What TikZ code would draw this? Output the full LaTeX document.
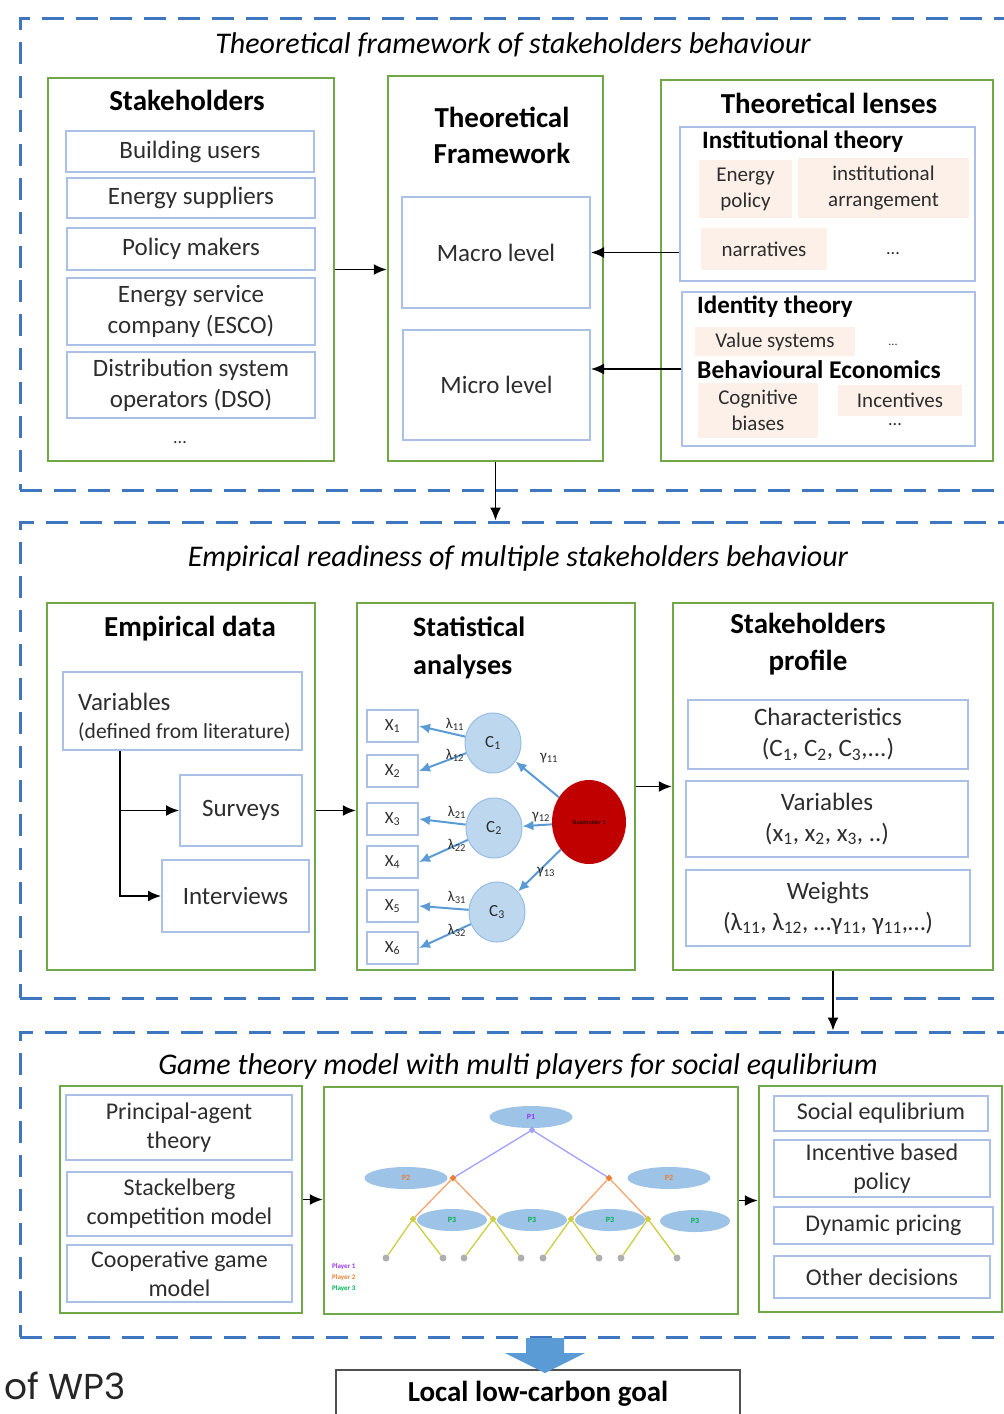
\documentclass[tikz,border=0pt]{standalone}
\usepackage{fontspec}
\setmainfont{Carlito}
\newfontfamily\wpfont{Poppins}
\usetikzlibrary{arrows.meta,shapes.geometric,calc}

\definecolor{grn}{RGB}{112,168,72}
\definecolor{lblue}{RGB}{170,192,230}
\definecolor{dblue}{RGB}{62,118,192}
\definecolor{peach}{RGB}{252,240,232}
\definecolor{txt}{RGB}{45,45,45}
\definecolor{cfill}{RGB}{189,215,238}
\definecolor{cline}{RGB}{150,190,228}
\definecolor{carrow}{RGB}{91,155,213}
\definecolor{sred}{RGB}{192,0,0}
\definecolor{ellfill}{RGB}{157,195,230}
\definecolor{pone}{RGB}{153,51,255}
\definecolor{ptwo}{RGB}{237,125,49}
\definecolor{pthree}{RGB}{0,176,80}
\definecolor{eone}{RGB}{160,160,255}
\definecolor{etwo}{RGB}{244,165,110}
\definecolor{ethree}{RGB}{205,205,70}
\definecolor{leafc}{RGB}{175,175,175}
\definecolor{goalc}{RGB}{80,80,80}

\newcommand\pxf[2]{\fontsize{#1}{#2}\selectfont}

\begin{document}
\begin{tikzpicture}[x=1pt,y=-1pt,
  sz/.style 2 args={minimum width=#1, minimum height=#2, inner sep=0pt},
  frame/.style={draw=dblue, line width=3pt, dash pattern=on 22pt off 12pt},
  frametitle/.style={font=\pxf{30}{36}\itshape, text=black},
  greenbox/.style={draw=grn, line width=2.5pt},
  bluebox/.style={draw=lblue, line width=2pt, align=center, text=txt, font=\pxf{25}{31}},
  heading/.style={font=\pxf{29}{37}\bfseries, text=black, align=center, inner sep=0pt},
  subhead/.style={font=\pxf{25}{30}\bfseries, text=black, anchor=west, inner sep=0pt},
  peachbox/.style={fill=peach, align=center, text=txt, font=\pxf{21}{26}},
  dots/.style={font=\pxf{18}{20}, text=txt, inner sep=0pt},
  arr/.style={-{Latex[length=13pt,width=11pt]}, line width=1.7pt, draw=black},
  xbox/.style={draw=lblue, line width=2pt, sz={51}{32}, font=\pxf{17}{20}, text=txt},
  cnode/.style={ellipse, fill=cfill, draw=cline, line width=1pt, sz={56}{60}, font=\pxf{17}{20}, text=txt},
  carr/.style={-{Latex[length=11pt,width=10pt]}, line width=2pt, draw=cline, color=carrow},
  lam/.style={font=\pxf{15}{17}, text=txt, inner sep=0pt},
  gell/.style={ellipse, fill=ellfill, inner sep=0pt, font=\pxf{8}{9}\bfseries},
  tnode/.style={diamond, inner sep=0pt, minimum size=7pt},
  leaf/.style={circle, fill=leafc, inner sep=0pt, minimum size=7pt},
  legend/.style={font=\pxf{7}{8}\bfseries, anchor=west, inner sep=0pt}
]
\useasboundingbox (0,0) rectangle (1004,1414);

% ---------- dashed section frames ----------
\node[frame, sz={1010}{472}] (fr1) at (525,254) {};
\node[frame, sz={1010}{476}] (fr2) at (525,760) {};
\node[frame, sz={1010}{305}] (fr3) at (525,1184.5) {};

\node[frametitle] at (513,45) {Theoretical framework of stakeholders behaviour};
\node[frametitle] at (518,558) {Empirical readiness of multiple stakeholders behaviour};
\node[frametitle] at (518,1066) {Game theory model with multi players for social equlibrium};

% ---------- section 1: theoretical framework ----------
\node[greenbox, sz={286}{383}] (stk) at (191,269.5) {};
\node[heading] at (187,100) {Stakeholders};
\node[bluebox, sz={248}{41}] (bu) at (190,151.5) {Building users};
\node[bluebox, sz={248}{40}] (es) at (191,198) {Energy suppliers};
\node[bluebox, sz={248}{42}] (pm) at (191,249) {Policy makers};
\node[bluebox, sz={248}{67}] (esco) at (191,311.5) {Energy service\\company (ESCO)};
\node[bluebox, sz={248}{66}] (dso) at (191,385) {Distribution system\\operators (DSO)};
\node[dots] at (180,443) {...};

\node[greenbox, sz={215}{385}] (tf) at (495.5,268.5) {};
\node[heading, font=\pxf{29}{36}\bfseries] at (502,135) {Theoretical\\Framework};
\node[bluebox, sz={188}{111}] (macro) at (496,252.5) {Macro level};
\node[bluebox, sz={187}{110}] (micro) at (496.5,385) {Micro level};

\node[greenbox, sz={332}{381}] (tl) at (827,270.5) {};
\node[heading] at (829,103) {Theoretical lenses};
\node[draw=lblue, line width=2pt, sz={295}{154}] (inst) at (827.5,204) {};
\node[subhead] at (702,142) {Institutional theory};
\node[peachbox, sz={93}{58}] (ep) at (745.5,189) {Energy\\policy};
\node[peachbox, sz={171}{60}] (ia) at (883.5,188) {institutional\\arrangement};
\node[peachbox, sz={126}{42}] (nar) at (764,249) {narratives};
\node[dots] at (893,254) {...};
\node[draw=lblue, line width=2pt, sz={293}{154}] (idt) at (828.5,369) {};
\node[subhead] at (697,307) {Identity theory};
\node[peachbox, sz={160}{29}] (vs) at (775,341.5) {Value systems};
\node[dots, font=\pxf{12}{14}] at (893,345) {...};
\node[subhead, font=\pxf{25.5}{30}\bfseries] at (697,370) {Behavioural Economics};
\node[peachbox, sz={120}{55}] (cb) at (758,410.5) {Cognitive\\biases};
\node[peachbox, sz={124}{31}] (inc) at (900,400.5) {Incentives};
\node[dots] at (895,425) {...};

\draw[arr] (stk.east) -- (stk.east -| tf.west);
\draw[arr] (inst.west |- macro.east) -- (macro.east);
\draw[arr] (idt.west) -- (idt.west -| micro.east);
\draw[arr] (tf.south) -- (tf.south |- fr2.north);

% ---------- section 2: empirical readiness ----------
\node[greenbox, sz={268}{367}] (emp) at (181,786.5) {};
\node[heading] at (190,629) {Empirical data};
\node[draw=lblue, line width=2pt, sz={239}{78}] (var) at (182.5,711) {};
\node[anchor=west, inner sep=0pt, font=\pxf{25}{30}, text=txt] at (78,702) {Variables};
\node[anchor=west, inner sep=0pt, font=\pxf{21.5}{26}, text=txt] at (78,732) {(defined from literature)};
\node[bluebox, sz={122}{71}] (sur) at (241,810.5) {Surveys};
\node[bluebox, sz={147}{72}] (int) at (235.5,896) {Interviews};
\coordinate (vfoot) at ([xshift=-62.5pt]var.south);
\draw[arr] (vfoot) |- (sur.west);
\draw[arr] (vfoot) |- (int.west);

\node[greenbox, sz={278}{367}] (stat) at (496,786.5) {};
\node[heading, anchor=west, align=left, font=\pxf{28}{38}\bfseries] at (413,648) {Statistical\\analyses};
\node[xbox] (x1) at (392.5,726) {X\textsubscript{1}};
\node[xbox] (x2) at (392.5,771) {X\textsubscript{2}};
\node[xbox] (x3) at (392.5,819) {X\textsubscript{3}};
\node[xbox] (x4) at (392.5,862) {X\textsubscript{4}};
\node[xbox] (x5) at (392.5,906) {X\textsubscript{5}};
\node[xbox] (x6) at (392.5,948) {X\textsubscript{6}};
\node[cnode] (c1) at (493,743) {C\textsubscript{1}};
\node[cnode] (c2) at (494,828) {C\textsubscript{2}};
\node[cnode] (c3) at (497,912) {C\textsubscript{3}};
\node[ellipse, fill=sred, inner sep=0pt, sz={74}{84}, font=\pxf{6}{7}, text=black] (sh) at (589,822) {Stakeholder 1};
\draw[carr] (c1) -- (x1.east);
\draw[carr] (c1) -- (x2.east);
\draw[carr] (c2) -- (x3.east);
\draw[carr] (c2) -- (x4.east);
\draw[carr] (c3) -- (x5.east);
\draw[carr] (c3) -- (x6.east);
\draw[carr] (sh) -- (c1);
\draw[carr] (sh) -- (c2);
\draw[carr] (sh) -- (c3);
\node[lam] at (455,724) {λ\textsubscript{11}};
\node[lam] at (455,755) {λ\textsubscript{12}};
\node[lam] at (457,812) {λ\textsubscript{21}};
\node[lam] at (457,845) {λ\textsubscript{22}};
\node[lam] at (457,897) {λ\textsubscript{31}};
\node[lam] at (457,930) {λ\textsubscript{32}};
\node[lam] at (549,758) {γ\textsubscript{11}};
\node[lam] at (541,817) {γ\textsubscript{12}};
\node[lam] at (546,872) {γ\textsubscript{13}};

\node[greenbox, sz={320}{367}] (prof) at (833,786.5) {};
\node[heading] at (808,644) {Stakeholders\\profile};
\node[bluebox, sz={280}{69}] (chr) at (828,734.5) {Characteristics\\(C\textsubscript{1}, C\textsubscript{2}, C\textsubscript{3},...)};
\node[bluebox, sz={282}{76}] (vr) at (827,819) {Variables\\(x\textsubscript{1}, x\textsubscript{2}, x\textsubscript{3}, ..)};
\node[bluebox, sz={284}{76}] (wt) at (828,908) {Weights\\(λ\textsubscript{11}, λ\textsubscript{12}, …γ\textsubscript{11}, γ\textsubscript{11},…)};

\draw[arr] (sur.east -| emp.east) -- (sur.east -| stat.west);
\draw[arr] (stat.east) -- (stat.east -| prof.west);
\draw[arr] (prof.south) -- (prof.south |- fr3.north);

% ---------- section 3: game theory ----------
\node[greenbox, sz={242}{227}] (gl) at (181,1199.5) {};
\node[bluebox, sz={226}{65}, font=\pxf{24}{29}] (pa) at (179,1127.5) {Principal-agent\\theory};
\node[bluebox, sz={225}{64}, font=\pxf{24}{29}] (sk) at (179.5,1204) {Stackelberg\\competition model};
\node[bluebox, sz={225}{57}, font=\pxf{24}{29}] (cg) at (179.5,1273.5) {Cooperative game\\model};

\node[greenbox, sz={414}{227}] (gm) at (531,1200.5) {};
% game tree
\node[gell, sz={83}{22}, text=pone] (e1) at (531,1117) {P1};
\node[gell, sz={83}{22}, text=ptwo] (e2a) at (406,1178) {P2};
\node[gell, sz={83}{22}, text=ptwo] (e2b) at (669,1178) {P2};
\node[gell, sz={70}{22}, text=pthree] (e3a) at (452,1220) {P3};
\node[gell, sz={70}{22}, text=pthree] (e3b) at (532,1220) {P3};
\node[gell, sz={70}{22}, text=pthree] (e3c) at (610,1220) {P3};
\node[gell, sz={70}{22}, text=pthree] (e3d) at (695,1221) {P3};
\node[tnode, fill=eone] (r) at (532,1130) {};
\node[tnode, fill=ptwo] (a) at (453,1178) {};
\node[tnode, fill=ptwo] (b) at (609,1178) {};
\node[tnode, fill=ethree] (k1) at (413,1219) {};
\node[tnode, fill=ethree] (k2) at (493,1219) {};
\node[tnode, fill=ethree] (k3) at (571,1219) {};
\node[tnode, fill=ethree] (k4) at (648,1219) {};
\foreach \i/\x in {1/386,2/443,3/464,4/521,5/543,6/599,7/621,8/677}
  \node[leaf] (l\i) at (\x,1258) {};
\draw[eone, line width=1.3pt] (r) -- (a) (r) -- (b);
\draw[etwo, line width=1.3pt] (a) -- (k1) (a) -- (k2) (b) -- (k3) (b) -- (k4);
\draw[ethree, line width=1.3pt] (k1) -- (l1) (k1) -- (l2) (k2) -- (l3) (k2) -- (l4)
  (k3) -- (l5) (k3) -- (l6) (k4) -- (l7) (k4) -- (l8);
\node[legend, text=pone] at (332,1267) {Player 1};
\node[legend, text=ptwo] at (332,1278) {Player 2};
\node[legend, text=pthree] at (332,1289) {Player 3};

\node[greenbox, sz={243}{226}] (gr) at (880.5,1199) {};
\node[bluebox, sz={214}{35}, font=\pxf{24}{29}] (se) at (881,1113.5) {Social equlibrium};
\node[bluebox, sz={216}{57}, font=\pxf{24}{29}] (ib) at (882,1168.5) {Incentive based\\policy};
\node[bluebox, sz={219}{37}, font=\pxf{24}{29}] (dp) at (883.5,1225.5) {Dynamic pricing};
\node[bluebox, sz={216}{42}, font=\pxf{24}{29}] (od) at (882,1277) {Other decisions};

\draw[arr] (gl.east) -- (gl.east -| gm.west);
\draw[arr] (gm.east) -- (gm.east -| gr.west);

% ---------- goal ----------
\node[draw=goalc, line width=2pt, sz={404}{48}, font=\pxf{29}{34}\bfseries] (goal) at (538,1394) {Local low-carbon goal};
\fill[carrow] (526,1338) -- (564,1338) -- (564,1353) -- (585,1353) -- (545,1373)
  -- (505,1353) -- (526,1353) -- cycle;
\node[anchor=west, inner sep=0pt, font=\wpfont\pxf{36}{40}, text=black!85] at (4,1386) {of WP3};
\end{tikzpicture}
\end{document}
